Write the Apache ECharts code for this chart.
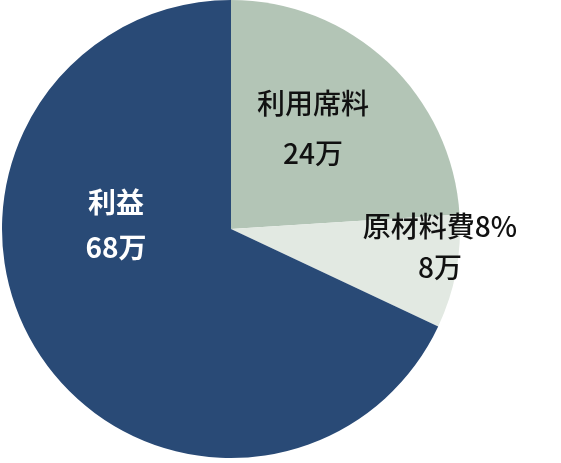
<!DOCTYPE html>
<html>
<head>
<meta charset="utf-8">
<script src="https://cdn.jsdelivr.net/npm/echarts@6/dist/echarts.min.js"></script>
<style>
html,body{margin:0;padding:0;background:#fff;}
#chart{width:561px;height:463px;}
</style>
</head>
<body>
<div id="chart"></div>
<script>
var categories = ['利用席料', '原材料費8%', '利益'];
var values = [24, 8, 68];
var unit = '万';

var colors = ['#b3c5b6', '#e2e9e2', '#294a76'];
var textColors = ['#111111', '#111111', '#ffffff'];
var labelPos = [[313, 128], [440, 247], [116, 225]];
var lineHeights = [50, 41, 45];
var weights = [500, 500, 'bold'];

var data = categories.map(function (c, i) {
  return {
    name: c,
    value: values[i],
    itemStyle: { color: colors[i] },
    label: {
      color: textColors[i],
      lineHeight: lineHeights[i],
      fontWeight: weights[i]
    }
  };
});

var chart = echarts.init(document.getElementById('chart'));
chart.setOption({
  animation: false,
  series: [{
    type: 'pie',
    center: [231, 229],
    radius: [0, 229],
    startAngle: 90,
    clockwise: true,
    data: data,
    label: {
      show: true,
      position: 'inside',
      formatter: function (p) { return p.name + '\n' + p.value + unit; },
      fontFamily: '"Noto Sans CJK JP", "Noto Sans", sans-serif',
      fontSize: 28,
      align: 'center'
    },
    labelLine: { show: false },
    labelLayout: function (params) {
      var pos = labelPos[params.dataIndex];
      return { x: pos[0], y: pos[1], align: 'center', verticalAlign: 'middle' };
    },
    itemStyle: { borderWidth: 0 },
    emphasis: { disabled: true }
  }]
});
</script>
</body>
</html>
